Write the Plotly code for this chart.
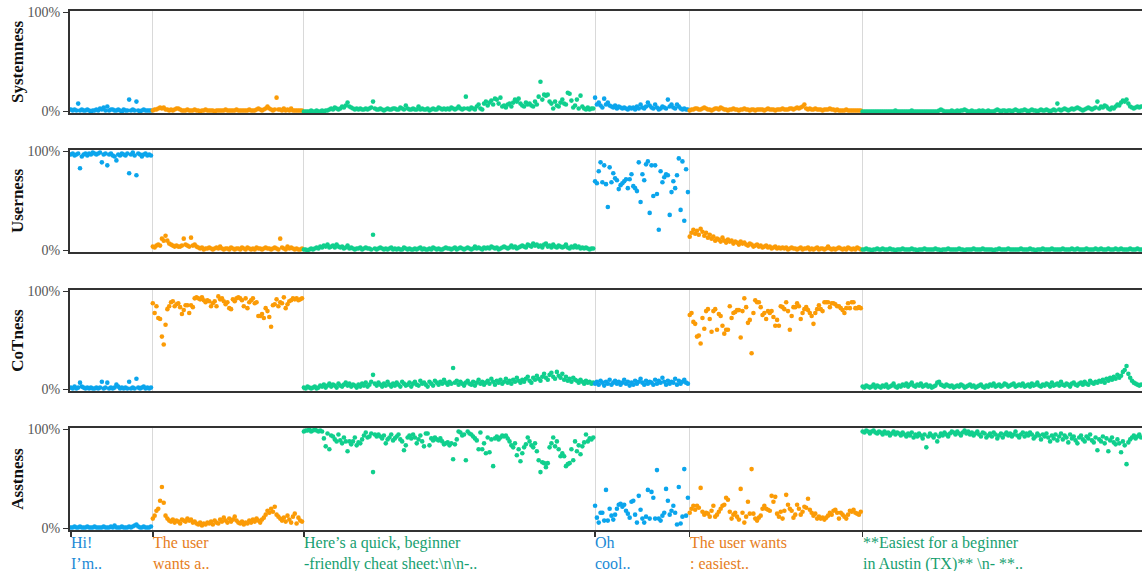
import plotly.graph_objects as go

# ---------------- data ----------------
segment_labels = [
    "Hi!<br>I’m..",
    "The user<br>wants a..",
    "Here’s a quick, beginner<br>-friendly cheat sheet:\\n\\n-..",
    "Oh<br>cool..",
    "The user wants<br>: easiest..",
    "**Easiest for a beginner<br>in Austin (TX)** \\n- **..",
]
segment_roles = ["user", "cot", "asst", "user", "cot", "asst"]
panel_titles = ["Systemness", "Userness", "CoTness", "Asstness"]
y_tick_vals = [0, 100]
y_tick_text = ["0%", "100%"]

systemness = [
    [2,1,2,1,8,1,2,1,1,2, 1,0,1,1,2,1,3,2,4,1, 5,1,2,2,1,1,2,1,0,2, 1,1,12,1,2,1,10,1,0,1, 2,1,1,1,1],
    [1,2,2,3,4,3,4,2,2,1, 2,1,2,3,3,2,1,1,1,2, 1,1,1,2,1,1,0,1,1,2, 1,1,1,1,0,1,1,1,1,1,
     2,1,1,1,1,1,2,1,1,1, 1,1,1,2,1,1,1,2,3,2, 1,2,3,5,3,2,1,2,14,2, 2,1,3,1,2,1,3,1,1,1, 1,1,1],
    [0,0,0,0,1,0,0,1,0,0, 1,0,1,1,2,3,2,4,3,2, 3,5,4,6,9,5,4,3,2,3, 2,3,2,2,3,2,3,4,10,3,
     2,2,3,2,1,2,3,2,2,3, 3,2,2,4,3,2,6,3,2,2, 3,2,2,5,2,3,2,2,3,1, 2,3,2,2,4,3,2,3,2,3,
     2,4,3,2,3,5,3,2,3,15, 3,2,4,3,2,5,7,3,2,8, 10,6,9,11,7,13,12,8,14,5, 6,4,7,8,5,9,12,10,13,8,
     6,5,9,7,8,6,5,10,7,15, 30,12,17,16,17,10,8,3,10,6, 5,9,12,8,7,19,18,11,4,6, 12,3,16,5,3,2,4,2,3,3],
    [14,7,9,6,4,13,7,9,6,5, 4,6,3,5,4,3,4,3,2,4, 3,4,2,5,3,7,4,3,5,9, 6,4,3,7,4,2,3,5,4,3,
     12,5,7,4,3,7,5,3,2,3, 2,2],
    [1,2,2,3,3,2,2,3,4,3, 2,2,1,2,3,3,2,4,3,2, 2,1,2,2,3,2,2,1,2,2, 3,2,2,1,2,2,1,2,2,2,
     2,1,2,3,2,2,2,1,2,2, 2,3,2,2,2,3,3,2,3,4, 3,4,5,7,3,2,3,2,2,3, 2,2,2,1,2,2,2,3,2,2,
     1,2,1,1,1,1,2,1,1,1, 1,1,1,1,1],
    [0,0,0,0,0,0,0,0,0,0, 0,0,0,0,0,0,0,0,1,0, 0,0,0,0,0,0,0,1,0,0, 0,0,0,0,0,0,0,0,0,0,
     0,0,1,2,1,0,0,0,0,1, 0,0,1,0,1,1,2,1,0,0, 1,0,0,0,1,0,1,0,0,1, 0,0,0,1,2,1,0,1,1,0,
     1,1,0,1,2,1,0,1,1,2, 1,0,1,2,1,1,0,1,2,1, 1,2,1,0,1,2,1,8,2,1, 2,3,2,1,2,3,2,3,4,3,
     2,1,2,3,4,3,2,3,4,10, 3,5,4,6,5,3,2,4,3,5, 7,6,9,11,10,12,8,5,4,3, 4,5,4,5],
]

userness = [
    [97,98,96,97,98,83,95,97,98,96, 98,97,99,98,97,98,99,89,97,98, 86,97,98,96,95,91,97,96,98,97,
     96,98,78,97,99,96,76,98,97,95, 97,98,96,97,96],
    [4,3,5,6,5,12,10,15,10,7, 6,5,4,5,4,4,5,12,6,5, 4,13,5,6,4,3,2,3,1,2, 2,3,2,1,2,3,2,4,2,1,
     2,2,1,3,2,1,2,2,1,3, 2,1,3,2,1,2,1,3,2,2, 1,2,3,2,2,1,2,3,2,1, 12,3,2,1,4,2,3,2,1,2, 1,1,2],
    [1,1,0,1,2,1,2,3,2,4, 3,5,4,6,3,4,5,3,6,4, 3,4,2,3,5,2,3,2,1,2, 2,3,1,2,3,2,2,1,16,2,
     1,2,3,2,1,2,1,2,3,1, 2,1,2,1,1,3,2,1,2,1, 1,2,1,2,3,1,2,1,1,2, 1,3,2,1,2,1,1,2,3,2,
     2,1,2,3,1,2,3,2,1,2, 3,2,1,2,4,2,3,2,1,3, 2,3,2,4,3,2,3,1,2,3, 4,3,2,3,5,3,4,2,3,4,
     5,4,3,6,5,4,7,5,6,4, 5,3,6,7,4,5,3,6,4,3, 5,4,3,4,6,3,2,4,3,5, 3,4,2,3,2,3,2,1,2,2],
    [70,68,80,89,69,86,67,44,84,69, 78,73,71,62,66,68,70,72,63,72, 77,65,63,60,89,49,77,71,87,90,
     38,86,55,86,57,21,80,69,74,77, 76,36,59,70,63,76,93,41,90,30, 82,59],
    [14,18,21,17,20,16,22,19,15,18, 13,16,12,14,10,12,11,9,13,10, 8,11,9,10,7,9,8,6,9,7,
     8,6,5,7,6,4,5,6,4,5, 3,4,5,3,4,2,3,4,2,3, 2,3,2,3,1,2,3,2,2,1, 2,3,1,2,2,3,1,2,1,2,
     3,1,2,2,1,2,4,2,1,2, 1,2,3,2,1,2,1,3,2,1, 2,1,3,2,1],
    [1,1,2,1,1,0,1,1,2,1, 1,2,1,1,1,2,1,1,0,1, 1,1,2,1,1,1,1,2,1,1, 0,1,1,1,2,1,1,1,1,1,
     2,1,1,0,1,1,1,2,1,1, 1,1,1,2,1,1,0,1,1,1, 1,2,1,1,1,1,2,1,1,1, 1,1,0,1,1,2,1,1,1,1,
     2,1,1,1,1,1,1,2,1,1, 1,1,2,1,1,0,1,1,1,2, 1,1,1,1,2,1,1,1,1,1, 2,1,1,1,1,2,1,1,2,1,
     1,1,1,2,1,1,1,1,2,1, 1,2,1,1,1,2,1,1,1,2, 1,1,2,1,1,1,1,2,1,1, 1,2,1,1],
]

cotness = [
    [2,1,3,1,2,7,3,2,1,2, 1,2,1,1,2,1,2,8,1,2, 7,1,2,1,2,5,3,1,2,1, 2,1,8,1,2,1,11,2,1,2, 3,1,2,1,2],
    [88,78,85,73,72,54,46,66,82,85, 89,90,85,87,88,84,77,81,86,86, 78,86,84,93,94,93,92,94,91,89,
     91,90,85,88,90,85,95,92,93,90, 87,89,83,82,92,90,93,94,93,91, 85,93,83,89,91,93,88,89,75,75,
     77,73,83,80,74,64,86,87,92,85, 89,88,94,83,87,90,91,93,92,93, 91,92,93],
    [2,1,3,2,1,2,3,1,2,4, 3,5,2,4,6,3,5,4,2,6, 4,3,5,7,4,6,3,5,4,2, 5,3,6,4,7,3,5,8,15,6,
     4,7,5,3,6,4,8,5,3,6, 4,7,5,3,8,6,4,5,7,3, 6,8,5,4,9,6,7,5,3,8, 6,4,9,7,5,8,6,10,7,5,
     8,6,22,7,9,5,8,6,4,7, 9,6,5,8,4,7,10,6,8,5, 7,9,6,11,8,5,9,7,10,6, 8,11,7,9,6,10,8,12,9,7,
     10,8,11,13,9,7,12,10,14,11, 9,13,16,12,10,15,17,13,11,18, 14,12,16,10,13,9,11,8,12,10, 9,7,10,8,6,9,7,8,6,7],
    [6,8,5,9,7,4,8,6,10,5, 7,9,6,8,5,7,10,6,8,4, 7,5,9,6,8,11,7,5,9,6, 8,7,5,10,6,9,7,12,8,5,
     9,6,8,7,11,5,9,6,8,10, 7,6],
    [76,78,69,67,54,55,47,73,62,80, 82,72,59,80,82,61,77,75,65,57, 61,61,85,73,78,79,81,81,53,80,
     93,84,68,71,37,78,91,89,89,84, 76,78,72,80,78,80,74,65,71,65, 85,84,82,89,80,61,75,84,84,88,
     85,72,78,82,84,81,78,75,67,78, 82,86,82,80,89,89,89,84,88,88, 87,85,85,83,81,78,83,88,83,89,
     89,83,83,84,83],
    [3,2,4,3,2,3,5,2,4,3, 2,4,3,5,2,3,4,6,3,2, 4,3,5,4,6,3,5,7,4,3, 5,4,6,3,4,5,3,4,2,3,
     4,7,8,5,4,3,5,4,3,4, 2,3,4,3,5,4,2,3,4,5, 3,4,2,3,4,5,3,2,4,3, 5,4,6,3,4,5,3,4,6,5,
     3,4,5,6,3,4,5,4,6,3, 4,5,3,6,4,5,7,4,3,5, 4,6,5,3,7,4,5,6,4,8, 5,4,6,5,3,6,7,5,4,6,
     7,5,8,6,5,9,7,6,8,7, 9,8,10,7,11,9,12,10,13,11, 15,12,14,18,20,24,16,12,9,7, 6,5,4,5],
]

asstness = [
    [1,1,2,1,1,2,1,1,1,2, 1,1,1,2,1,1,1,1,2,1, 1,1,2,1,3,1,1,1,2,1, 1,1,2,1,2,3,4,2,1,1, 2,1,1,1,2],
    [10,13,18,20,28,42,26,13,10,8, 7,9,6,8,7,5,9,8,7,10, 8,9,6,7,5,4,6,3,5,4, 6,5,7,4,8,6,5,9,7,11,
     8,6,10,7,9,12,8,6,5,7, 4,6,5,8,6,9,7,10,8,6, 9,11,14,18,16,20,17,22,14,12, 10,8,11,7,13,9,6,12,15,5, 11,8,7],
    [98,99,99,100,98,99,100,99,98,99, 98,91,83,96,80,94,93,90,88,95, 89,86,92,88,78,88,85,88,92,84,
     87,86,90,94,97,92,93,96,57,95, 93,95,93,91,94,86,90,92,95,89, 91,93,95,90,88,79,84,92,94,91,
     95,92,86,90,94,88,83,96,96,84, 91,89,92,90,89,91,88,85,86,87, 84,86,70,85,90,98,97,94,95,69,
     98,96,95,93,91,89,80,97,80,86, 76,92,77,90,63,91,93,90,92,94, 93,94,91,88,84,82,86,74,80,68,
     76,82,85,92,88,84,82,86,78,69, 57,67,66,62,66,82,86,92,83,88, 80,73,76,73,63,65,66,80,69,88,
     78,84,75,83,87,95,88,91,90,92],
    [23,11,6,16,16,8,39,8,20,13, 9,14,20,24,25,22,24,18,15,11, 27,28,14,6,33,19,10,6,12,39,
     10,37,31,10,59,10,8,13,16,40, 28,14,18,23,16,4,42,5,12,60, 13,31],
    [16,20,23,19,23,21,41,17,14,16, 15,12,18,23,12,14,17,20,23,24, 31,29,17,10,14,16,12,9,40,16,
     6,12,27,15,60,15,10,8,11,13, 20,23,20,19,18,33,27,32,15,12, 17,10,18,34,24,20,18,11,14,24,
     20,14,17,22,21,30,19,16,13,15, 10,12,10,11,9,11,13,16,14,18, 19,16,10,16,14,12,10,14,18,17,
     19,16,15,14,17],
    [98,97,99,98,96,98,99,97,96,98, 97,95,98,96,97,94,96,98,95,97, 96,94,97,95,93,96,94,97,92,95,
     93,96,94,91,95,82,93,96,94,92, 95,88,93,96,94,97,95,93,96,98, 97,95,98,96,94,97,99,96,98,95,
     97,94,96,98,95,93,97,96,92,94, 96,93,97,95,91,94,96,92,95,97, 94,96,93,95,98,94,92,95,97,93,
     96,94,97,95,91,93,96,94,90,95, 93,96,92,88,94,91,95,89,93,96, 90,94,92,87,95,91,93,89,86,92,
     94,90,88,93,91,95,89,87,92,79, 90,88,93,86,91,78,89,92,87,85, 90,86,77,88,84,65,87,90,92,94,
     91,93,95,92],
]

panels = [systemness, userness, cotness, asstness]

# ---------------- styling ----------------
dot_color = {"user": "#0ba5ec", "cot": "#fb9b06", "asst": "#10cf8d"}
text_color = {"user": "#1c8ad6", "cot": "#e67e22", "asst": "#17a070"}
FONT = "Liberation Serif"

seg_len = [len(s) for s in systemness]
starts = []
acc = 0
for n in seg_len:
    starts.append(acc)
    acc += n
total = acc

# vertical domains (bottom panel = Asstness)
domains = [(0.8035, 1.0), (0.5356, 0.7322), (0.2678, 0.4624), (0.0, 0.1965)]

fig = go.Figure()
for p, series in enumerate(panels):
    ax = "" if p == 0 else str(p + 1)
    for s, vals in enumerate(series):
        xs = list(range(starts[s], starts[s] + len(vals)))
        fig.add_trace(go.Scatter(
            x=xs, y=vals, mode="markers",
            marker=dict(size=4.6, color=dot_color[segment_roles[s]], line=dict(width=0)),
            xaxis="x" + ax, yaxis="y" + ax, showlegend=False, hoverinfo="skip",
        ))

layout = dict(
    width=1142, height=571,
    margin=dict(l=70, r=0, t=11, b=41, autoexpand=False),
    plot_bgcolor="white", paper_bgcolor="white",
    font=dict(family=FONT, color="#333"),
    showlegend=False,
)
for p in range(4):
    ax = "" if p == 0 else str(p + 1)
    bottom = p == 3
    layout["xaxis" + ax] = dict(
        domain=[0, 1], anchor="y" + ax, range=[-0.5, total - 0.5],
        tickmode="array", tickvals=starts, showticklabels=False,
        ticks="outside" if bottom else "", ticklen=5, tickwidth=1.5, tickcolor="#333",
        showgrid=True, gridcolor="#d9d9d9", gridwidth=1,
        showline=True, linewidth=2, linecolor="#333", mirror=True,
        zeroline=False, automargin=False, matches=None if p == 0 else "x",
    )
    layout["yaxis" + ax] = dict(
        domain=list(domains[p]), anchor="x" + ax, range=[-1.5, 101.5],
        tickmode="array", tickvals=y_tick_vals, ticktext=y_tick_text,
        ticks="outside", ticklen=5, tickwidth=1.5, tickcolor="#333",
        tickfont=dict(family=FONT, size=14, color="#555"),
        showgrid=False, zeroline=False, automargin=False,
        showline=True, linewidth=2, linecolor="#333",
        title=dict(text="<b>" + panel_titles[p] + "</b>", standoff=0,
                   font=dict(family=FONT, size=17, color="#111")),
    )
fig.update_layout(**layout)

for s, lab in enumerate(segment_labels):
    fig.add_annotation(
        x=starts[s], xref="x4", y=0, yref="paper", yshift=-3,
        xanchor="left", yanchor="top", align="left", showarrow=False,
        text=lab, borderpad=0, xshift=-1,
        font=dict(family=FONT, size=16, color=text_color[segment_roles[s]]),
    )

# place the figure at the very top-left of the page (no default body margin)
fig.write_html("out.html", config={"displayModeBar": False, "staticPlot": True},
               post_script="document.body.style.margin='0';document.body.style.overflow='hidden';")
